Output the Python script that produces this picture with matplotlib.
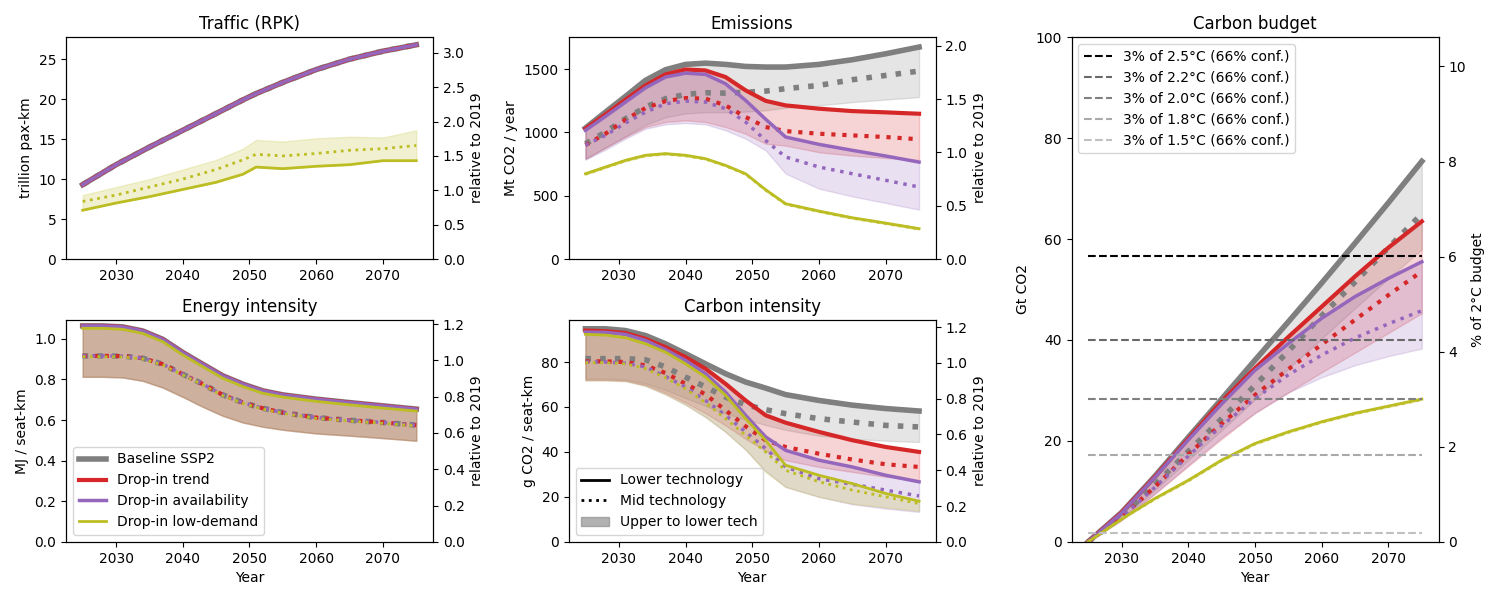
import matplotlib
matplotlib.use('Agg')
import matplotlib.pyplot as plt
from matplotlib.lines import Line2D
from matplotlib.patches import Patch

# Сценарии и цвета
scenarios = ['Baseline SSP2', 'Drop-in trend', 'Drop-in availability', 'Drop-in low-demand']
colors = ['tab:gray', 'tab:red', 'tab:purple', 'tab:olive']
widths = [4, 3, 2.5, 2]

# Годы: подробная сетка для выбросов и интенсивностей, 5-летняя для бюджета
years = [2025, 2028, 2031, 2034, 2037, 2040, 2043, 2046, 2049, 2052, 2055, 2060, 2065, 2070, 2075]
budget_years = [2025, 2030, 2035, 2040, 2045, 2050, 2055, 2060, 2065, 2070, 2075]

# Трафик (trillion pax-km) - свой набор лет
traffic_years = [2025, 2030, 2035, 2040, 2045, 2049, 2051, 2055, 2060, 2065, 2070, 2075]
rpk_main = [9.3, 11.8, 14.0, 16.1, 18.2, 19.9, 20.7, 22.1, 23.7, 25.0, 26.0, 26.8]
rpk_ld_lower = [6.1, 7.0, 7.8, 8.7, 9.6, 10.6, 11.5, 11.3, 11.6, 11.8, 12.3, 12.3]
rpk_ld_mid = [7.2, 8.0, 9.0, 10.0, 11.2, 12.4, 13.1, 12.9, 13.2, 13.6, 13.8, 14.2]
rpk_ld_upper = [8.0, 9.0, 10.0, 11.2, 12.4, 13.8, 14.9, 14.7, 15.1, 15.3, 15.2, 16.1]

# Выбросы (Mt CO2 / year): нижняя технология (сплошная), средняя (пунктир), верхняя (граница заливки)
emis_lower = {
    'Baseline SSP2': [1035, 1161, 1285, 1412, 1496, 1538, 1548, 1538, 1522, 1517, 1517, 1538, 1575, 1622, 1675],
    'Drop-in trend': [1030, 1143, 1259, 1372, 1459, 1498, 1490, 1438, 1333, 1250, 1214, 1188, 1169, 1159, 1148],
    'Drop-in availability': [1017, 1127, 1240, 1353, 1438, 1469, 1459, 1385, 1254, 1105, 964, 906, 859, 814, 766],
    'Drop-in low-demand': [674, 727, 780, 820, 833, 820, 793, 740, 674, 548, 437, 379, 326, 284, 240],
}
emis_mid = {
    'Baseline SSP2': [911, 1003, 1109, 1201, 1267, 1301, 1314, 1311, 1318, 1327, 1346, 1372, 1417, 1451, 1485],
    'Drop-in trend': [900, 990, 1101, 1193, 1248, 1272, 1267, 1214, 1122, 1043, 1011, 990, 977, 964, 946],
    'Drop-in availability': [900, 977, 1075, 1161, 1227, 1248, 1240, 1188, 1083, 937, 806, 727, 674, 622, 569],
    'Drop-in low-demand': [671, 724, 777, 817, 830, 817, 790, 737, 671, 545, 434, 376, 323, 281, 237],
}
emis_upper = {
    'Baseline SSP2': [790, 880, 970, 1060, 1120, 1150, 1160, 1160, 1165, 1175, 1196, 1214, 1240, 1260, 1280],
    'Drop-in trend': [793, 880, 965, 1043, 1083, 1096, 1083, 1043, 990, 911, 896, 844, 817, 798, 783],
    'Drop-in availability': [785, 864, 951, 1030, 1064, 1075, 1064, 1017, 951, 859, 675, 556, 495, 443, 390],
    'Drop-in low-demand': [666, 719, 772, 812, 825, 812, 785, 732, 666, 540, 429, 371, 318, 276, 232],
}

# Энергоёмкость (MJ / seat-km)
ei_lower = {
    'Baseline SSP2': [1.064, 1.064, 1.059, 1.039, 0.998, 0.933, 0.875, 0.818, 0.777, 0.744, 0.724, 0.703, 0.686, 0.670, 0.654],
    'Drop-in trend': [1.064, 1.064, 1.059, 1.039, 0.998, 0.933, 0.875, 0.818, 0.777, 0.744, 0.724, 0.703, 0.686, 0.670, 0.654],
    'Drop-in availability': [1.064, 1.064, 1.059, 1.039, 0.998, 0.933, 0.875, 0.818, 0.777, 0.744, 0.724, 0.703, 0.686, 0.670, 0.654],
    'Drop-in low-demand': [1.052, 1.052, 1.047, 1.027, 0.986, 0.921, 0.863, 0.806, 0.765, 0.732, 0.713, 0.692, 0.675, 0.659, 0.644],
}
ei_mid = {
    'Baseline SSP2': [0.916, 0.916, 0.915, 0.905, 0.875, 0.826, 0.777, 0.724, 0.686, 0.658, 0.637, 0.612, 0.599, 0.588, 0.575],
    'Drop-in trend': [0.916, 0.916, 0.915, 0.905, 0.875, 0.826, 0.777, 0.724, 0.686, 0.658, 0.637, 0.612, 0.599, 0.588, 0.575],
    'Drop-in availability': [0.916, 0.916, 0.915, 0.905, 0.875, 0.826, 0.777, 0.724, 0.686, 0.658, 0.637, 0.612, 0.599, 0.588, 0.575],
    'Drop-in low-demand': [0.912, 0.912, 0.911, 0.901, 0.871, 0.822, 0.773, 0.720, 0.682, 0.654, 0.633, 0.608, 0.595, 0.584, 0.571],
}
ei_upper = {
    'Baseline SSP2': [0.813, 0.813, 0.810, 0.793, 0.760, 0.714, 0.665, 0.621, 0.588, 0.567, 0.552, 0.534, 0.523, 0.511, 0.498],
    'Drop-in trend': [0.813, 0.813, 0.810, 0.793, 0.760, 0.714, 0.665, 0.621, 0.588, 0.567, 0.552, 0.534, 0.523, 0.511, 0.498],
    'Drop-in availability': [0.813, 0.813, 0.810, 0.793, 0.760, 0.714, 0.665, 0.621, 0.588, 0.567, 0.552, 0.534, 0.523, 0.511, 0.498],
    'Drop-in low-demand': [0.813, 0.813, 0.810, 0.793, 0.760, 0.714, 0.665, 0.621, 0.588, 0.567, 0.552, 0.534, 0.523, 0.511, 0.498],
}

# Углеродоёмкость (g CO2 / seat-km)
ci_lower = {
    'Baseline SSP2': [94.8, 94.8, 94.0, 91.8, 88.1, 83.7, 79.2, 74.8, 71.1, 68.4, 65.5, 62.9, 60.8, 59.3, 58.2],
    'Drop-in trend': [94.0, 93.7, 92.9, 90.3, 86.6, 82.2, 77.0, 70.3, 62.9, 56.3, 53.0, 48.9, 45.2, 42.2, 40.0],
    'Drop-in availability': [93.3, 93.2, 92.3, 89.6, 85.5, 80.7, 74.8, 66.6, 56.3, 46.7, 40.7, 36.3, 33.3, 29.6, 26.7],
    'Drop-in low-demand': [92.3, 92.0, 90.8, 88.1, 84.4, 79.2, 73.3, 65.2, 54.8, 45.2, 34.1, 29.6, 25.9, 21.5, 18.1],
}
ci_mid = {
    'Baseline SSP2': [81.5, 81.5, 81.5, 81.0, 77.8, 73.3, 68.9, 64.4, 61.0, 58.8, 57.0, 54.8, 53.3, 51.8, 51.1],
    'Drop-in trend': [80.3, 80.3, 80.0, 78.5, 75.1, 70.3, 65.6, 58.5, 51.4, 45.2, 42.2, 39.2, 36.6, 34.5, 33.3],
    'Drop-in availability': [80.0, 80.0, 79.5, 77.8, 73.6, 68.9, 62.9, 56.3, 48.9, 41.5, 33.3, 28.1, 25.6, 23.0, 20.4],
    'Drop-in low-demand': [79.7, 79.7, 79.2, 77.0, 73.0, 68.1, 61.8, 54.8, 47.4, 40.0, 31.8, 26.7, 23.0, 20.0, 17.0],
}
ci_upper = {
    'Baseline SSP2': [72.6, 72.6, 72.3, 70.5, 67.5, 64.0, 60.5, 57.0, 54.5, 52.0, 49.8, 47.2, 45.8, 45.0, 44.4],
    'Drop-in trend': [72.1, 72.1, 71.8, 69.8, 66.3, 62.0, 57.2, 51.8, 45.8, 40.5, 36.3, 33.3, 31.1, 28.9, 27.4],
    'Drop-in availability': [71.8, 71.8, 71.5, 69.4, 65.6, 61.0, 55.5, 48.9, 41.0, 31.5, 24.4, 20.0, 16.7, 14.8, 13.3],
    'Drop-in low-demand': [71.8, 71.8, 71.5, 69.4, 65.6, 61.0, 55.5, 48.9, 41.0, 31.0, 24.4, 20.0, 17.0, 15.3, 13.8],
}

# Накопленные выбросы (Gt CO2)
cum_lower = {
    'Baseline SSP2': [0, 5.8, 13.0, 20.7, 28.3, 36.0, 43.6, 51.3, 59.2, 67.2, 75.4],
    'Drop-in trend': [0, 5.8, 12.9, 20.4, 27.8, 34.4, 40.6, 46.6, 52.6, 58.3, 63.5],
    'Drop-in availability': [0, 5.7, 12.8, 20.2, 27.3, 34.0, 39.3, 44.3, 48.6, 52.2, 55.5],
    'Drop-in low-demand': [0, 4.5, 8.6, 12.2, 16.2, 19.5, 21.8, 23.8, 25.5, 26.9, 28.3],
}
cum_mid = {
    'Baseline SSP2': [0, 5.0, 11.3, 17.9, 24.4, 31.0, 37.8, 44.8, 51.5, 58.3, 65.0],
    'Drop-in trend': [0, 4.9, 10.9, 17.3, 23.4, 29.1, 34.2, 39.1, 44.0, 48.9, 53.6],
    'Drop-in availability': [0, 4.9, 10.8, 17.0, 23.0, 28.4, 33.1, 37.0, 40.4, 43.2, 45.8],
    'Drop-in low-demand': [0, 4.5, 8.5, 12.1, 16.1, 19.4, 21.7, 23.7, 25.4, 26.8, 28.2],
}
cum_upper = {
    'Baseline SSP2': [0, 4.5, 10.2, 16.2, 22.1, 28.2, 34.3, 40.3, 46.3, 52.2, 58.0],
    'Drop-in trend': [0, 4.3, 9.5, 15.0, 20.4, 25.5, 29.6, 33.6, 37.5, 41.4, 45.3],
    'Drop-in availability': [0, 4.3, 9.6, 15.2, 20.7, 25.6, 29.6, 32.6, 35.0, 36.8, 38.3],
    'Drop-in low-demand': [0, 4.4, 8.4, 12.0, 16.0, 19.3, 21.6, 23.6, 25.3, 26.7, 28.1],
}

# Бюджеты
budget_labels = ['3% of 2.5°C (66% conf.)', '3% of 2.2°C (66% conf.)', '3% of 2.0°C (66% conf.)',
                 '3% of 1.8°C (66% conf.)', '3% of 1.5°C (66% conf.)']
budget_values = [56.7, 39.9, 28.3, 17.2, 1.8]
budget_colors = ['black', 'dimgray', 'gray', 'darkgray', 'silver']


def draw_panel(ax, x, lower, mid, upper):
    for name, c, lw in zip(scenarios, colors, widths):
        ax.fill_between(x, lower[name], upper[name], color=c, alpha=0.2)
        ax.plot(x, lower[name], color=c, lw=lw, label=name)
        ax.plot(x, mid[name], color=c, lw=lw, ls=':')


def add_twin(ax, top, factor, label):
    ax.set_ylim(0, top)
    ax2 = ax.twinx()
    ax2.set_ylim(0, top / factor)
    ax2.set_ylabel(label)
    return ax2


fig = plt.figure(figsize=(15, 6), dpi=100)
gs = fig.add_gridspec(2, 3, left=0.044, right=0.959, bottom=0.097, top=0.938,
                      wspace=0.37, hspace=0.275)

# Трафик
ax = fig.add_subplot(gs[0, 0])
for name, c, lw in zip(scenarios[:3], colors[:3], widths[:3]):
    ax.plot(traffic_years, rpk_main, color=c, lw=lw)
    ax.plot(traffic_years, rpk_main, color=c, lw=lw, ls=':')
ax.fill_between(traffic_years, rpk_ld_lower, rpk_ld_upper, color=colors[3], alpha=0.2)
ax.plot(traffic_years, rpk_ld_lower, color=colors[3], lw=widths[3])
ax.plot(traffic_years, rpk_ld_mid, color=colors[3], lw=widths[3], ls=':')
ax.set_title('Traffic (RPK)')
ax.set_ylabel('trillion pax-km')
add_twin(ax, 27.75, 8.6, 'relative to 2019')

# Выбросы
ax = fig.add_subplot(gs[0, 1])
draw_panel(ax, years, emis_lower, emis_mid, emis_upper)
ax.set_title('Emissions')
ax.set_ylabel('Mt CO2 / year')
add_twin(ax, 1753, 842, 'relative to 2019')

# Энергоёмкость
ax = fig.add_subplot(gs[1, 0])
draw_panel(ax, years, ei_lower, ei_mid, ei_upper)
ax.set_title('Energy intensity')
ax.set_ylabel('MJ / seat-km')
ax.set_xlabel('Year')
ax.legend(loc='lower left')
add_twin(ax, 1.093, 0.894, 'relative to 2019')

# Углеродоёмкость
ax = fig.add_subplot(gs[1, 1])
draw_panel(ax, years, ci_lower, ci_mid, ci_upper)
ax.set_title('Carbon intensity')
ax.set_ylabel('g CO2 / seat-km')
ax.set_xlabel('Year')
handles = [Line2D([], [], color='black', lw=2),
           Line2D([], [], color='black', lw=2, ls=':'),
           Patch(color='gray', alpha=0.6)]
ax.legend(handles, ['Lower technology', 'Mid technology', 'Upper to lower tech'], loc='lower left')
add_twin(ax, 98.7, 79.6, 'relative to 2019')

# Углеродный бюджет
ax = fig.add_subplot(gs[:, 2])
draw_panel(ax, budget_years, cum_lower, cum_mid, cum_upper)
for lab, val, c in zip(budget_labels, budget_values, budget_colors):
    ax.plot([budget_years[0], budget_years[-1]], [val, val], color=c, ls='--', lw=1.5, label=lab)
ax.set_title('Carbon budget')
ax.set_ylabel('Gt CO2')
ax.set_xlabel('Year')
hs, ls_ = ax.get_legend_handles_labels()
ax.legend(hs[-5:], ls_[-5:], loc='upper left')
add_twin(ax, 100, 9.42, '% of 2°C budget')

plt.savefig('out.png')
